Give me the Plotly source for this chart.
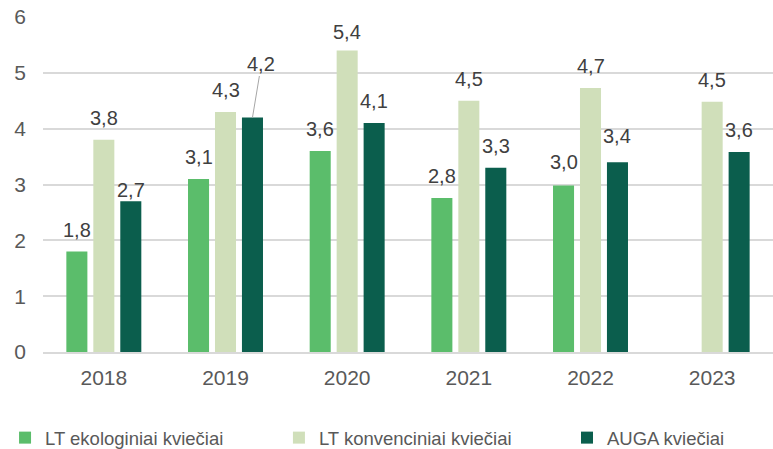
import plotly.graph_objects as go

# ── Data ──────────────────────────────────────────────────────────────────────
years = ["2018", "2019", "2020", "2021", "2022", "2023"]
lt_eko = [1.8, 3.1, 3.6, 2.76, 2.98, None]
lt_konv = [3.8, 4.3, 5.4, 4.5, 4.73, 4.48]
auga = [2.7, 4.2, 4.1, 3.3, 3.4, 3.58]

SERIES = [
    ("LT ekologiniai kviečiai", lt_eko, "#5bbd6b", "legend", -0.052),
    ("LT konvenciniai kviečiai", lt_konv, "#d0dfba", "legend2", 0.3232),
    ("AUGA kviečiai", auga, "#0b5e4d", "legend3", 0.7178),
]

FONT = "Liberation Sans, Arial, sans-serif"
BARGAP = 0.335
GROUPGAP = 0.22

fig = go.Figure()
for name, vals, color, leg, _ in SERIES:
    fig.add_trace(go.Bar(
        x=years, y=vals, name=name, legend=leg,
        marker=dict(color=color, line=dict(width=0)),
        hoverinfo="skip",
    ))

# ── Data labels (Excel-style, placed above each bar) ─────────────────────────
slot = (1 - BARGAP) / 3
shift_override = {(2, 0): 11, (1, 2): 19, (2, 4): 26, (0, 4): 24}
annotations = []
for s, (name, vals, color, _, _) in enumerate(SERIES):
    for i, v in enumerate(vals):
        if v is None:
            continue
        txt = f"{v:.1f}".replace(".", ",")
        xpos = i + (s - 1) * slot
        if (s, i) == (2, 1):
            # label moved up with a leader line
            annotations.append(dict(
                x=xpos, y=v, xref="x", yref="y", text=txt,
                showarrow=True, arrowhead=0, arrowwidth=1,
                arrowcolor="#a6a6a6", ax=9, ay=-54, standoff=0,
                font=dict(family=FONT, size=20, color="#404040"),
            ))
            continue
        annotations.append(dict(
            x=xpos, y=v, xref="x", yref="y", text=txt,
            showarrow=False, yanchor="middle",
            yshift=shift_override.get((s, i), 22),
            font=dict(family=FONT, size=20, color="#404040"),
        ))

legend_style = dict(
    orientation="h", xanchor="left", y=-0.257, yanchor="middle",
    font=dict(family=FONT, size=18.5, color="#595959"),
    bgcolor="rgba(0,0,0,0)",
)
fig.update_layout(
    width=773, height=449,
    margin=dict(l=43, r=0, t=17, b=97, autoexpand=False),
    paper_bgcolor="white", plot_bgcolor="white",
    barmode="group", bargap=BARGAP, bargroupgap=GROUPGAP,
    font=dict(family=FONT, size=20, color="#595959"),
    showlegend=True,
    legend=dict(x=SERIES[0][4], **legend_style),
    legend2=dict(x=SERIES[1][4], **legend_style),
    legend3=dict(x=SERIES[2][4], **legend_style),
    annotations=annotations,
)
fig.update_xaxes(
    type="category", showgrid=False, showline=True,
    linecolor="#d9d9d9", linewidth=1.5, automargin=False,
    ticks="", ticklabelstandoff=6,
    tickfont=dict(family=FONT, size=21, color="#595959"),
)
fig.update_yaxes(
    range=[0, 6], dtick=1, showgrid=True, gridcolor="#d9d9d9",
    gridwidth=1.5, zeroline=False, showline=False, automargin=False,
    ticks="", ticklabelstandoff=16,
    tickfont=dict(family=FONT, size=21, color="#595959"),
)

# the page's default body margin would push the figure 8px off the corner
fig.write_html(
    "out.html",
    config={"displayModeBar": False},
    post_script="document.body.style.margin = '0';",
)
